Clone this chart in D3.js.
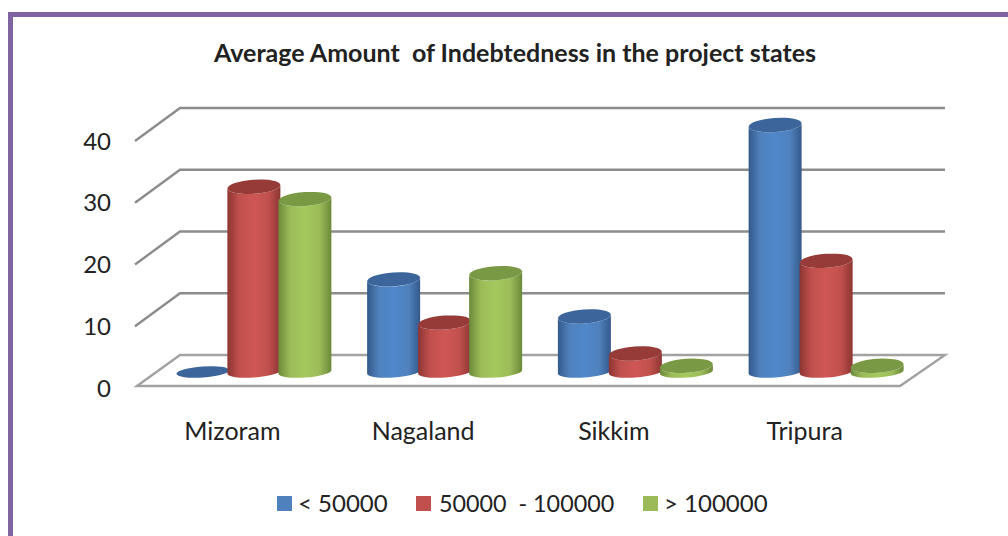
<!DOCTYPE html>
<html>
<head>
<meta charset="utf-8">
<script src="https://cdnjs.cloudflare.com/ajax/libs/d3/7.8.5/d3.min.js"></script>
<style>
html, body { margin: 0; padding: 0; background: #fff; }
svg { display: block; }
text { font-family: Lato, "Open Sans", sans-serif; fill: #222; }
</style>
</head>
<body>
<svg id="chart" width="1008" height="536"></svg>
<script>
var categories = ['Mizoram', 'Nagaland', 'Sikkim', 'Tripura'];
var seriesNames = ['< 50000', '50000  - 100000', '> 100000'];
var under50k = [0, 15, 9, 40];
var mid = [30, 8, 3, 18];
var over100k = [28, 16, 1, 1];
var yTicks = [0, 10, 20, 30, 40];

var seriesValues = [under50k, mid, over100k];
var colors = [
	{ main: '#4f81bd', light: '#5088cb', dark: '#34598a', top: '#3a659b' },
	{ main: '#c0504d', light: '#cf5654', dark: '#8d3533', top: '#963b39' },
	{ main: '#9bbb59', light: '#a5c95c', dark: '#6b8939', top: '#7a9944' }
];

var depthX = 43, depthY = 31;
var barShiftX = 21.5, barShiftY = 14;
var rx = 26.5, ryTop = 7, ryBase = 5.5, tilt = -4;
var tiltDy = rx * Math.sin(-tilt * Math.PI / 180);

var svg = d3.select('#chart');

// purple frame, only top and left are inside the picture
svg.append('rect').attr('x', 8).attr('y', 12).attr('width', 1000).attr('height', 5).attr('fill', '#8064a2');
svg.append('rect').attr('x', 8).attr('y', 12).attr('width', 5).attr('height', 524).attr('fill', '#8064a2');

var x = d3.scaleBand().domain(categories).range([137, 900]);
var inner = d3.scaleBand().domain(d3.range(seriesNames.length)).range([-76.5, 76.5]);
var y = d3.scaleLinear().domain([0, 40]).range([386, 139]);

var defs = svg.append('defs');
colors.forEach(function(c, i) {
	var g = defs.append('linearGradient').attr('id', 'cyl' + i);
	g.append('stop').attr('offset', '0%').attr('stop-color', c.dark);
	g.append('stop').attr('offset', '22%').attr('stop-color', c.main);
	g.append('stop').attr('offset', '50%').attr('stop-color', c.light);
	g.append('stop').attr('offset', '78%').attr('stop-color', c.main);
	g.append('stop').attr('offset', '100%').attr('stop-color', c.dark);
});
var soft = defs.append('filter').attr('id', 'soft');
soft.append('feGaussianBlur').attr('stdDeviation', 0.6);

// gridlines: back wall and left wall
var grid = svg.append('g').attr('fill', 'none').attr('stroke', '#8c8c8c').attr('stroke-width', 2.4).attr('filter', 'url(#soft)');
grid.selectAll('path.wall')
	.data(yTicks.filter(function(d) { return d > 0; }))
	.enter().append('path')
	.attr('class', 'wall')
	.attr('d', function(d) {
		var py = y(d);
		return 'M135,' + (py + 2) + 'L' + (137 + depthX) + ',' + (py - depthY) + 'L' + (900 + depthX + 2) + ',' + (py - depthY);
	});
// floor
grid.append('path')
	.attr('fill', '#fff')
	.attr('stroke', '#a2a2a2')
	.attr('d', 'M' + 137 + ',' + y(0) + 'L' + (137 + depthX) + ',' + (y(0) - depthY) + 'L' + (900 + depthX + 2) + ',' + (y(0) - depthY) + 'L' + 900 + ',' + y(0) + 'Z');

// cylinders
function cylinder(cx, yBase, yTop) {
	return 'M' + (cx - rx) + ',' + (yTop + tiltDy)
		+ 'L' + (cx - rx) + ',' + (yBase + tiltDy)
		+ 'A' + rx + ',' + ryBase + ' ' + tilt + ' 0 0 ' + (cx + rx) + ',' + (yBase - tiltDy)
		+ 'L' + (cx + rx) + ',' + (yTop - tiltDy)
		+ 'A' + rx + ',' + ryTop + ' ' + tilt + ' 0 1 ' + (cx - rx) + ',' + (yTop + tiltDy) + 'Z';
}

var bars = svg.append('g').attr('filter', 'url(#soft)');
categories.forEach(function(cat, ci) {
	seriesValues.forEach(function(values, si) {
		var v = values[ci];
		var cx = x(cat) + x.bandwidth() / 2 + inner(si) + inner.bandwidth() / 2 + barShiftX;
		var yBase = y(0) - barShiftY;
		var yTop = y(v) - barShiftY;
		if (v > 0) {
			bars.append('path').attr('d', cylinder(cx, yBase, yTop)).attr('fill', 'url(#cyl' + si + ')');
		}
		bars.append('ellipse')
			.attr('cx', 0).attr('cy', 0)
			.attr('rx', rx).attr('ry', v > 0 ? ryTop : ryBase)
			.attr('transform', 'translate(' + cx + ',' + yTop + ') rotate(' + tilt + ')')
			.attr('fill', colors[si].top);
	});
});

// axes
var yAxis = svg.append('g')
	.attr('transform', 'translate(115,0)')
	.call(d3.axisLeft(y).tickValues(yTicks).tickSize(0).tickPadding(4));
yAxis.select('.domain').remove();
yAxis.selectAll('text').attr('dy', '0.42em').style('font-size', '24px').style('font-family', 'Lato, sans-serif').attr('fill', '#222');

var xAxis = svg.append('g')
	.attr('transform', 'translate(0,386)')
	.call(d3.axisBottom(x).tickSize(0).tickPadding(36));
xAxis.select('.domain').remove();
xAxis.selectAll('text').style('font-size', '25px').style('font-family', 'Lato, sans-serif').attr('fill', '#222');

// title
svg.append('text')
	.attr('x', 515).attr('y', 62)
	.attr('text-anchor', 'middle')
	.attr('xml:space', 'preserve')
	.style('font-size', '25px').style('font-weight', 'bold')
	.text('Average Amount  of Indebtedness in the project states');

// legend
var legendX = [277, 416, 643];
var legendFont = [24, 23.3, 24];
var legend = svg.append('g').selectAll('g')
	.data(seriesNames)
	.enter().append('g')
	.attr('transform', function(d, i) { return 'translate(' + legendX[i] + ',496)'; });
legend.append('rect')
	.attr('width', 15).attr('height', 15)
	.attr('fill', function(d, i) { return colors[i].main; });
legend.append('text')
	.attr('x', function(d, i) { return i === 1 ? 23 : 21; }).attr('y', 16)
	.attr('xml:space', 'preserve')
	.style('font-size', function(d, i) { return legendFont[i] + 'px'; })
	.text(function(d) { return d; });
</script>
</body>
</html>
